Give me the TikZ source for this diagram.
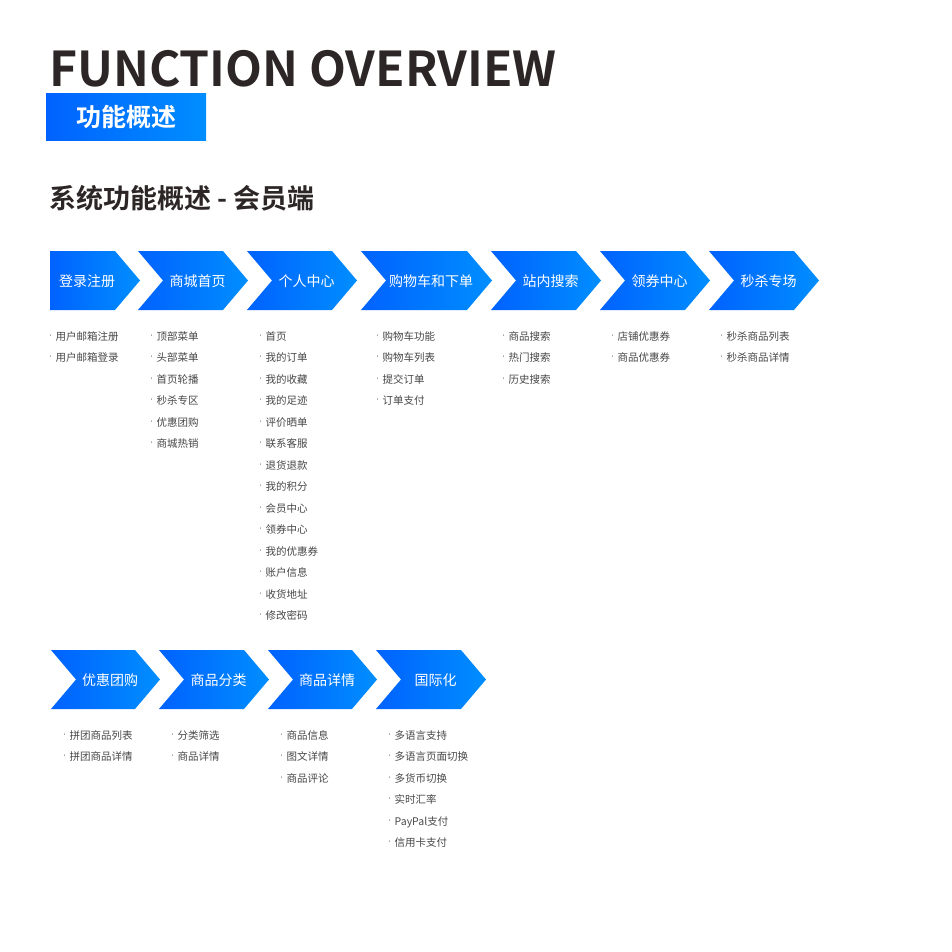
\documentclass[tikz,border=0pt]{standalone}
\usepackage{fontspec}
\setmainfont{Noto Sans CJK SC}
\newfontfamily\cjkbold{Noto Sans CJK SC Bold}
\usetikzlibrary{positioning}
\definecolor{bluel}{RGB}{0,98,255}
\definecolor{bluer}{RGB}{0,142,255}
\definecolor{txtdark}{RGB}{45,38,38}
\definecolor{txtgray}{RGB}{70,70,70}
\newcommand{\itm}{{\fontsize{5}{5}\selectfont\raisebox{1.1ex}{•}}\hspace{2.5pt}}
% chevron: x, y, width, notch, label, name
\newcommand{\chev}[6]{\shade[left color=bluel, right color=bluer]
  (#1,#2) -- ({#1+#3-25},#2) -- ({#1+#3},{#2+29.5}) -- ({#1+#3-25},{#2+59})
  -- (#1,{#2+59}) -- ({#1+#4},{#2+29.5}) -- cycle;
  \node[chevtext] (#6) at ({#1+(#3+#4)/2-8},{#2+30}) {#5};}
\tikzset{
  chevtext/.style={text=white, font=\fontsize{14}{14}\selectfont},
  items/.style={anchor=north west, align=left, inner sep=0pt, text=txtgray,
    font=\fontsize{10.5}{21.5}\selectfont}
}
\begin{document}
\begin{tikzpicture}[x=1pt,y=-1pt]
\useasboundingbox (0,0) rectangle (952,952);

% header
\node[anchor=west, inner sep=0pt, text=txtdark, font=\cjkbold\fontsize{48}{48}\selectfont] (title) at (49,69) {FUNCTION OVERVIEW};
\shade[left color=bluel, right color=bluer] (46,94) rectangle (206,141);
\node[text=white, font=\cjkbold\fontsize{25}{25}\selectfont] (subtag) at (126,117.5) {功能概述};
\node[anchor=west, inner sep=0pt, text=txtdark, font=\cjkbold\fontsize{27}{27}\selectfont] (sect) at (49,198) {系统功能概述 - 会员端};

% first row
\chev{50}{251}{90}{0}{登录注册}{c1}
\chev{138}{251}{110}{25}{商城首页}{c2}
\chev{247}{251}{110}{25}{个人中心}{c3}
\chev{361}{251}{131}{25}{购物车和下单}{c4}
\chev{491}{251}{110}{25}{站内搜索}{c5}
\chev{600}{251}{110}{25}{领券中心}{c6}
\chev{709}{251}{110}{25}{秒杀专场}{c7}

\node[items] (l1) at (48,331) {\itm 用户邮箱注册\\\itm 用户邮箱登录};
\node[items] (l2) at (149,331) {\itm 顶部菜单\\\itm 头部菜单\\\itm 首页轮播\\\itm 秒杀专区\\\itm 优惠团购\\\itm 商城热销};
\node[items] (l3) at (258,331) {\itm 首页\\\itm 我的订单\\\itm 我的收藏\\\itm 我的足迹\\\itm 评价晒单\\\itm 联系客服\\\itm 退货退款\\\itm 我的积分\\\itm 会员中心\\\itm 领券中心\\\itm 我的优惠券\\\itm 账户信息\\\itm 收货地址\\\itm 修改密码};
\node[items] (l4) at (375,331) {\itm 购物车功能\\\itm 购物车列表\\\itm 提交订单\\\itm 订单支付};
\node[items] (l5) at (501,331) {\itm 商品搜索\\\itm 热门搜索\\\itm 历史搜索};
\node[items] (l6) at (610,331) {\itm 店铺优惠券\\\itm 商品优惠券};
\node[items] (l7) at (719,331) {\itm 秒杀商品列表\\\itm 秒杀商品详情};

% second row
\chev{51}{650}{109}{25}{优惠团购}{d1}
\chev{159}{650}{110}{25}{商品分类}{d2}
\chev{268}{650}{109}{25}{商品详情}{d3}
\chev{376}{650}{110}{25}{国际化}{d4}

\node[items] (m1) at (62,730) {\itm 拼团商品列表\\\itm 拼团商品详情};
\node[items] (m2) at (170,730) {\itm 分类筛选\\\itm 商品详情};
\node[items] (m3) at (279,730) {\itm 商品信息\\\itm 图文详情\\\itm 商品评论};
\node[items] (m4) at (387,730) {\itm 多语言支持\\\itm 多语言页面切换\\\itm 多货币切换\\\itm 实时汇率\\\itm PayPal支付\\\itm 信用卡支付};
\end{tikzpicture}
\end{document}
